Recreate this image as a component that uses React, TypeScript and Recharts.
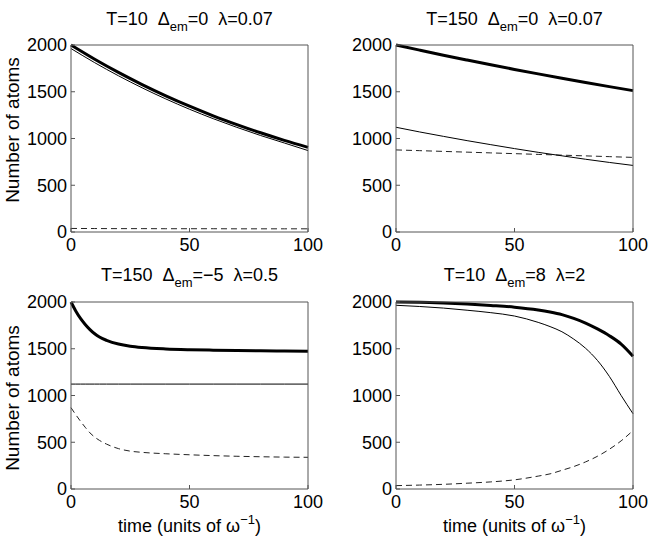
import React from "react";
import { LineChart, Line, XAxis, YAxis } from "recharts";

// ---- data ----
const yTicks = [0, 500, 1000, 1500, 2000];
const xTicks = [0, 50, 100];

const tlTime = [0, 10, 20, 30, 40, 50, 60, 70, 80, 90, 100];
const tlTotal = [2000, 1848, 1707, 1577, 1457, 1346, 1243, 1149, 1061, 980, 905];
const tlThin = [1962, 1811, 1671, 1542, 1423, 1313, 1212, 1119, 1032, 952, 871];
const tlDash = [38, 37, 36, 36, 35, 35, 35, 34, 34, 34, 34];

const trTime = [0, 10, 20, 30, 40, 50, 60, 70, 80, 90, 100];
const trTotal = [2000, 1945, 1891, 1839, 1788, 1739, 1691, 1644, 1599, 1555, 1512];
const trThin = [1120, 1070, 1023, 977, 934, 892, 852, 815, 778, 744, 712];
const trDash = [878, 870, 862, 854, 846, 838, 830, 822, 814, 806, 798];

const blTime = [0, 2, 4, 6, 8, 10, 12, 15, 20, 25, 30, 40, 50, 60, 70, 80, 90, 100];
const blTotal = [2000, 1905, 1825, 1760, 1705, 1660, 1625, 1590, 1550, 1527, 1513, 1498, 1490, 1485, 1481, 1478, 1476, 1474];
const blThin = [1122, 1122, 1122, 1122, 1122, 1122, 1122, 1122, 1122, 1122, 1122, 1122, 1122, 1122, 1122, 1122, 1122, 1122];
const blDash = [870, 795, 725, 660, 600, 555, 520, 480, 432, 405, 392, 377, 366, 357, 350, 345, 341, 339];

const brTime = [0, 10, 20, 30, 40, 50, 60, 65, 70, 75, 80, 85, 90, 95, 100];
const brTotal = [2000, 1998, 1990, 1978, 1963, 1945, 1915, 1893, 1865, 1825, 1775, 1712, 1640, 1550, 1420];
const brThin = [1965, 1952, 1935, 1912, 1886, 1850, 1782, 1737, 1682, 1603, 1505, 1375, 1205, 1000, 805];
const brDash = [36, 42, 50, 62, 76, 98, 138, 162, 200, 240, 290, 350, 425, 515, 625];

const FONT = "'Liberation Sans', Arial, Helvetica, sans-serif";
const AXIS = "#555";

function rows(t: number[], a: number[], b: number[], c: number[]) {
  return t.map((v, i) => ({ t: v, total: a[i], thin: b[i], dash: c[i] }));
}

type PanelProps = {
  left: number;
  top: number;
  width: number;
  height: number;
  margin: { top: number; left: number; right: number; bottom: number };
  data: any[];
};

function Panel({ left, top, width, height, margin, data }: PanelProps) {
  const tickStyle = { fill: "#000", fontSize: 18, fontFamily: FONT };
  return (
    <div style={{ position: "absolute", left, top, width, height }}>
      <LineChart width={width} height={height} data={data} margin={margin}>
        <XAxis
          dataKey="t"
          type="number"
          domain={[0, 100]}
          ticks={xTicks}
          height={30}
          tickSize={-4}
          tickMargin={10}
          tick={tickStyle}
          stroke={AXIS}
          tickLine={{ stroke: AXIS }}
          interval={0}
        />
        <XAxis
          xAxisId="top"
          orientation="top"
          dataKey="t"
          type="number"
          domain={[0, 100]}
          ticks={xTicks}
          height={1}
          tickSize={-4}
          tick={false}
          stroke={AXIS}
          tickLine={{ stroke: AXIS }}
          interval={0}
        />
        <YAxis
          type="number"
          domain={[0, 2000]}
          ticks={yTicks}
          width={60}
          tickSize={-4}
          tickMargin={8}
          tick={tickStyle}
          stroke={AXIS}
          tickLine={{ stroke: AXIS }}
          interval={0}
        />
        <YAxis
          yAxisId="r"
          orientation="right"
          type="number"
          domain={[0, 2000]}
          ticks={yTicks}
          width={1}
          tickSize={-4}
          tick={false}
          stroke={AXIS}
          tickLine={{ stroke: AXIS }}
          interval={0}
        />
        <Line dataKey="dash" type="monotone" stroke="#222" strokeWidth={1} strokeDasharray="6 4" dot={false} isAnimationActive={false} />
        <Line dataKey="thin" type="monotone" stroke="#000" strokeWidth={1} dot={false} isAnimationActive={false} />
        <Line dataKey="total" type="monotone" stroke="#000" strokeWidth={3} dot={false} isAnimationActive={false} />
      </LineChart>
    </div>
  );
}

function Title({ x, y, t, d, l }: { x: number; y: number; t: string; d: string; l: string }) {
  return (
    <text x={x} y={y} textAnchor="middle" fontSize={18} fontFamily={FONT} fill="#000">
      {`T=${t}\u00A0\u00A0\u0394`}
      <tspan dy={6} fontSize={13}>em</tspan>
      <tspan dy={-6}>{`=${d}\u00A0\u00A0\u03BB=${l}`}</tspan>
    </text>
  );
}

function XLabel({ x, y }: { x: number; y: number }) {
  return (
    <text x={x} y={y} textAnchor="middle" fontSize={18} fontFamily={FONT} fill="#000">
      {"time (units of \u03C9"}
      <tspan dy={-8} fontSize={13}>{"\u22121"}</tspan>
      <tspan dy={8}>{")"}</tspan>
    </text>
  );
}

function YLabel({ x, y }: { x: number; y: number }) {
  return (
    <text
      x={0}
      y={0}
      transform={`translate(${x},${y}) rotate(-90)`}
      textAnchor="middle"
      fontSize={19}
      fontFamily={FONT}
      fill="#000"
    >
      Number of atoms
    </text>
  );
}

export default function App() {
  return (
    <div style={{ position: "absolute", left: 0, top: 0, width: 654, height: 542, background: "#fff" }}>
      <Panel left={0} top={0} width={327} height={262}
        margin={{ top: 44, left: 11, right: 18, bottom: 0 }}
        data={rows(tlTime, tlTotal, tlThin, tlDash)} />
      <Panel left={327} top={0} width={327} height={262}
        margin={{ top: 44, left: 9, right: 20, bottom: 0 }}
        data={rows(trTime, trTotal, trThin, trDash)} />
      <Panel left={0} top={262} width={327} height={280}
        margin={{ top: 39, left: 11, right: 18, bottom: 23 }}
        data={rows(blTime, blTotal, blThin, blDash)} />
      <Panel left={327} top={262} width={327} height={280}
        margin={{ top: 39, left: 9, right: 20, bottom: 23 }}
        data={rows(brTime, brTotal, brThin, brDash)} />
      <svg width={654} height={542} style={{ position: "absolute", left: 0, top: 0, pointerEvents: "none" }}>
        <Title x={189.5} y={25} t="10" d="0" l="0.07" />
        <Title x={514.5} y={25} t="150" d="0" l="0.07" />
        <Title x={189.5} y={281} t="150" d={"\u22125"} l="0.5" />
        <Title x={514.5} y={281} t="10" d="8" l="2" />
        <XLabel x={189.5} y={532} />
        <XLabel x={514.5} y={532} />
        <YLabel x={19} y={130} />
        <YLabel x={19} y={398} />
      </svg>
    </div>
  );
}
